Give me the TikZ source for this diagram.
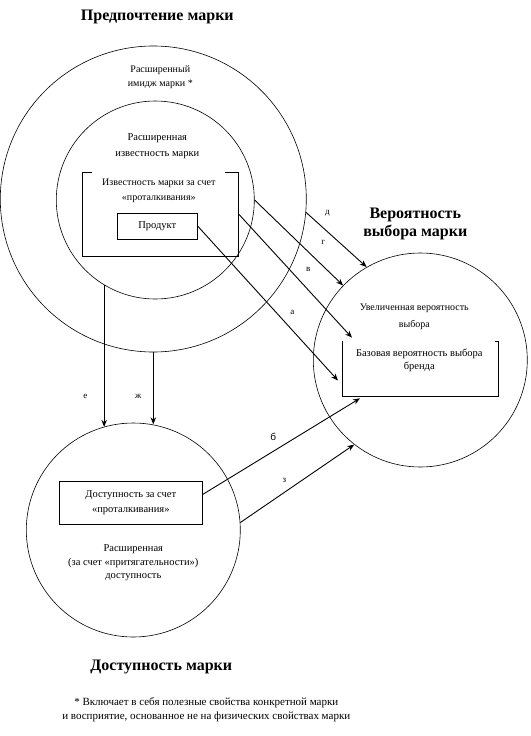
\documentclass[tikz,border=0pt]{standalone}
\usepackage{fontspec}
\setmainfont{Liberation Serif}
\newfontfamily\labelsans{Liberation Sans}
\usetikzlibrary{arrows.meta,positioning,calc}

\begin{document}
\begin{tikzpicture}[>={Stealth[length=7pt,width=5.5pt]}, x=1pt, y=-1pt, line width=0.6pt,
  ring/.style={draw, circle, inner sep=0pt},
  box/.style={draw, rectangle, inner sep=0pt},
  txt/.style={align=center, font=\fontsize{10.5}{15}\selectfont},
  title/.style={align=center, font=\fontsize{16}{18}\selectfont\bfseries},
  lbl/.style={font=\fontsize{9}{10}\selectfont},
  link/.style={->, line width=0.9pt}]
  \fill[white] (0,0) rectangle (530,736);

  % circles
  \node[ring, minimum size=306pt] (pref) at (153,199) {};
  \node[ring, minimum size=198pt] (aware) at (155,200) {};
  \node[ring, minimum size=214pt] (choice) at (420,360) {};
  \node[ring, minimum size=214pt] (access) at (133,530) {};

  % boxes
  \node[box, minimum width=156pt, minimum height=84pt] (pushbox) at (160,214) {};
  \node[txt, font=\fontsize{10}{15}\selectfont, fill=white, minimum width=133pt, inner xsep=1pt, inner ysep=7pt, anchor=north] (pushtxt) at (158.5,171.2) {Известность марки за счет\\«проталкивания»};
  \node[box, txt, minimum width=80pt, minimum height=26pt] (product) at (157,226) {Продукт};
  \node[box, minimum width=156pt, minimum height=55pt] (basebox) at (420,368.5) {};
  \node[txt, font=\fontsize{10.5}{13}\selectfont, fill=white, minimum width=152pt, inner ysep=8.5pt, anchor=north] (basetxt) at (419,340.5) {Базовая вероятность выбора\\бренда};
  \node[box, txt, minimum width=143pt, minimum height=43pt] (accessbox) at (130.5,502.5) {Доступность за счет\\«проталкивания»};

  % texts
  \node[txt, font=\fontsize{10}{14}\selectfont] (imagetxt) at (160,77) {Расширенный\\имидж марки *};
  \node[txt, font=\fontsize{10.5}{16}\selectfont] (awaretxt) at (157,146) {Расширенная\\известность марки};
  \node[txt, font=\fontsize{10}{17}\selectfont] (choicetxt) at (414,317) {Увеличенная вероятность\\выбора};
  \node[txt, font=\fontsize{10.5}{13.5}\selectfont] (pulltxt) at (133,563) {Расширенная\\(за счет «притягательности»)\\доступность};

  \node[title] (preftitle) at (157,17) {Предпочтение марки};
  \node[title] (choicetitle) at (415,224) {Вероятность\\выбора марки};
  \node[title] (accesstitle) at (161,667) {Доступность марки};
  \node[txt, font=\fontsize{11}{14}\selectfont] (note) at (206,710) {* Включает в себя полезные свойства конкретной марки\\и восприятие, основанное не на физических свойствах марки};

  % arrows
  \draw[link] (pref.-5) -- (choice.120);
  \draw[link] (aware.east) -- (choice.136);
  \draw[link] (pushbox.east) -- ($(basebox.north west)+(10,-3)$);
  \draw[link] (product.east) -- ($(basebox.west)+(-4,12)$);
  \draw[link] ($(accessbox.east)+(0,-8)$) -- ($(basebox.south west)+(18,2)$);
  \draw[link] (access.4) -- (choice.232);
  \draw[link] (aware.-121) -- (aware.-121 |- access.106);
  \draw[link] (pref.south) -- (pref.south |- access.80);

  \node[lbl] (ld) at (327,213) {д};
  \node[lbl] (lg) at (323,242) {г};
  \node[lbl] (lv) at (308,269) {в};
  \node[lbl] (la) at (292,312) {а};
  \node[lbl] (le) at (85,396) {е};
  \node[lbl] (lzh) at (138,396) {ж};
  \node[lbl, font=\fontsize{10}{11}\selectfont\labelsans] (lb) at (273,437) {б};
  \node[lbl] (lz) at (284,480) {з};
\end{tikzpicture}
\end{document}
